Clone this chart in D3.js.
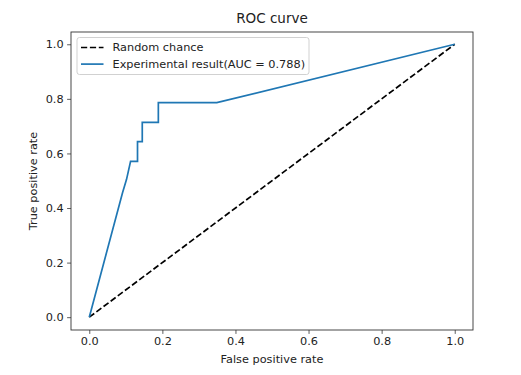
<!DOCTYPE html>
<html>
<head>
<meta charset="utf-8">
<script src="https://cdn.jsdelivr.net/npm/d3@7"></script>
<style>
  body { margin: 0; background: #fff; }
  svg { font-family: "DejaVu Sans", sans-serif; }
</style>
</head>
<body>
<div id="chart"></div>
<script>
// ROC curve
var fpr = [0, 0.091, 0.102, 0.113, 0.132, 0.132, 0.145, 0.145, 0.189, 0.189, 0.349, 1.0];
var tpr = [0, 0.456, 0.505, 0.571, 0.571, 0.643, 0.643, 0.714, 0.714, 0.786, 0.786, 1.0];
var chanceX = [0, 1];
var chanceY = [0, 1];
var ticks = [0, 0.2, 0.4, 0.6, 0.8, 1.0];
var legendLabels = ["Random chance", "Experimental result(AUC = 0.788)"];

var W = 521, H = 375;
var margin = { top: 32, right: 48, bottom: 45, left: 71 };
var width = W - margin.left - margin.right;
var height = H - margin.top - margin.bottom;

var svg = d3.select("#chart").append("svg")
    .attr("width", W).attr("height", H);
var g = svg.append("g")
    .attr("transform", "translate(" + margin.left + "," + margin.top + ")");

var x = d3.scaleLinear().domain([-0.05, 1.05]).range([0, width]);
var y = d3.scaleLinear().domain([-0.047, 1.045]).range([height, 0]);

var fs = 11.3;

// Axes
var xAxis = g.append("g")
    .attr("transform", "translate(0," + height + ")")
    .call(d3.axisBottom(x).tickValues(ticks).tickFormat(d3.format(".1f"))
        .tickSize(3.9).tickPadding(3.5));
var yAxis = g.append("g")
    .call(d3.axisLeft(y).tickValues(ticks).tickFormat(d3.format(".1f"))
        .tickSize(3.9).tickPadding(3.5));
[xAxis, yAxis].forEach(function (a) {
    a.select(".domain").remove();
    a.selectAll("line").attr("stroke", "#333").attr("stroke-width", 0.8);
    a.selectAll("text").attr("font-family", "DejaVu Sans")
        .attr("font-size", fs).attr("fill", "#222");
});

// Chance line
var chance = chanceX.map(function (v, i) { return [v, chanceY[i]]; });
g.append("path")
    .datum(chance)
    .attr("d", d3.line().x(function (d) { return x(d[0]); }).y(function (d) { return y(d[1]); }))
    .attr("fill", "none").attr("stroke", "#000")
    .attr("stroke-width", 1.7).attr("stroke-dasharray", "6.2,2.7");

// ROC
var roc = fpr.map(function (v, i) { return [v, tpr[i]]; });
g.append("path")
    .datum(roc)
    .attr("d", d3.line().x(function (d) { return x(d[0]); }).y(function (d) { return y(d[1]); }))
    .attr("fill", "none").attr("stroke", "#1f77b4")
    .attr("stroke-width", 1.7).attr("stroke-linejoin", "miter");

// Frame
g.append("rect")
    .attr("x", 0).attr("y", 0).attr("width", width).attr("height", height)
    .attr("fill", "none").attr("stroke", "#333").attr("stroke-width", 0.9);

// Legend
var legend = g.append("g").attr("transform", "translate(6,5.5)");
legend.append("rect")
    .attr("width", 232).attr("height", 37).attr("rx", 2.5)
    .attr("fill", "#fff").attr("fill-opacity", 0.8)
    .attr("stroke", "#ccc").attr("stroke-width", 0.9);
var styles = [{ c: "#000", dash: "6.2,2.7" }, { c: "#1f77b4", dash: null }];
legendLabels.forEach(function (lab, i) {
    var row = legend.append("g").attr("transform", "translate(0," + (10 + i * 16.6) + ")");
    row.append("line")
        .attr("x1", 4).attr("x2", 26.5).attr("y1", 0).attr("y2", 0)
        .attr("stroke", styles[i].c).attr("stroke-width", 1.7)
        .attr("stroke-dasharray", styles[i].dash);
    row.append("text")
        .attr("x", 35.5).attr("y", 0).attr("dy", "0.35em")
        .attr("font-size", fs).attr("fill", "#222").text(lab);
});

// Title and labels
svg.append("text")
    .attr("x", margin.left + width / 2).attr("y", 22.5)
    .attr("text-anchor", "middle").attr("font-size", 13.5).attr("fill", "#222")
    .text("ROC curve");
svg.append("text")
    .attr("x", margin.left + width / 2).attr("y", 363)
    .attr("text-anchor", "middle").attr("font-size", fs).attr("fill", "#222")
    .text("False positive rate");
svg.append("text")
    .attr("transform", "translate(37," + (margin.top + height / 2) + ") rotate(-90)")
    .attr("text-anchor", "middle").attr("font-size", fs).attr("fill", "#222")
    .text("True positive rate");
</script>
</body>
</html>
